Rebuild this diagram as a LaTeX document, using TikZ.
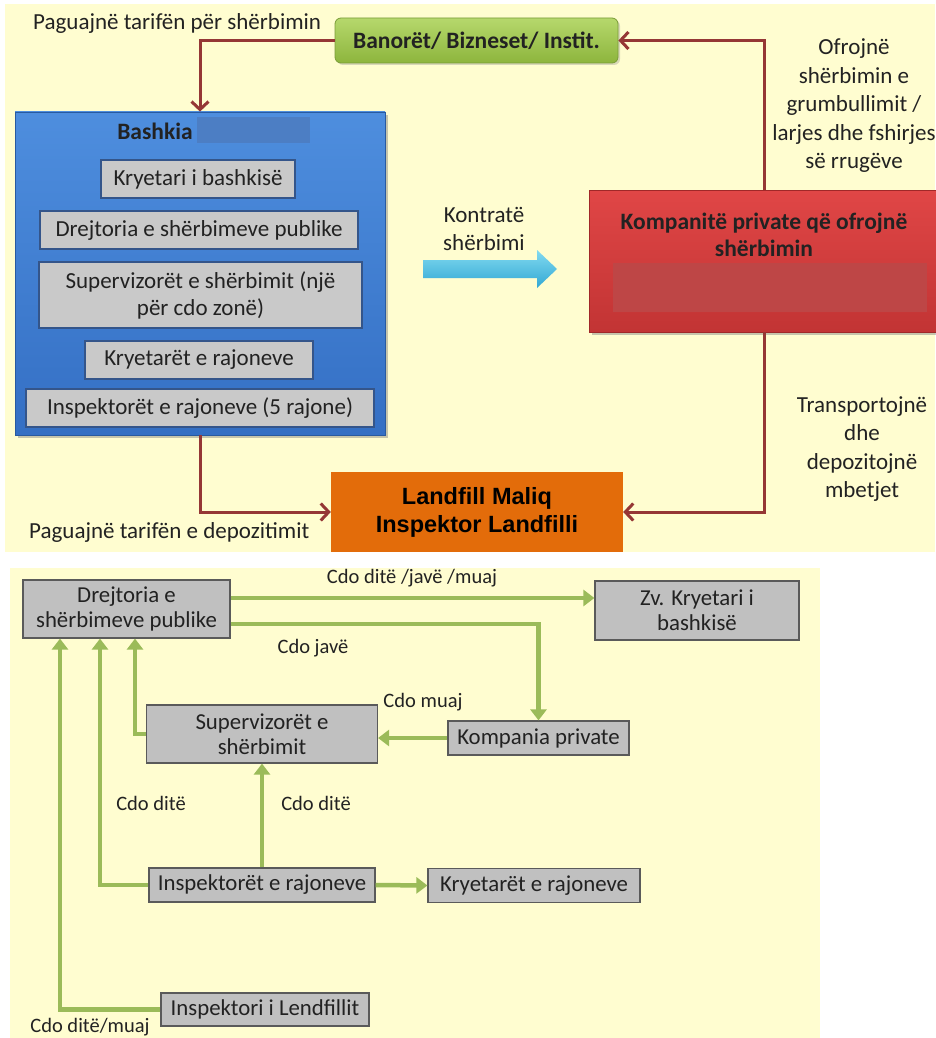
\documentclass[tikz,border=0pt]{standalone}
\usepackage{fontspec}
\setmainfont{Carlito}
\newfontfamily\arialf{Liberation Sans}
\usetikzlibrary{arrows.meta,shadows,calc}
\definecolor{bgy}{HTML}{FFFDD0}
\definecolor{txt}{HTML}{222222}
\definecolor{darkred}{HTML}{953735}
\definecolor{gline}{HTML}{9BBB59}
\definecolor{tgrayfill}{HTML}{C9C9C9}
\definecolor{tborder}{HTML}{34558A}
\definecolor{bgrayfill}{HTML}{C0C0C0}
\definecolor{bborder}{HTML}{5A5A5A}
\definecolor{landor}{HTML}{E36C0A}
\definecolor{greentop}{HTML}{B6D86C}
\definecolor{greenbot}{HTML}{8DB53D}
\definecolor{greendraw}{HTML}{7A9C38}
\definecolor{bluetop}{HTML}{4E8EDE}
\definecolor{bluebot}{HTML}{346FC4}
\definecolor{bluedraw}{HTML}{285AA0}
\definecolor{blueredact}{HTML}{4C7EC4}
\definecolor{redtop}{HTML}{E04646}
\definecolor{redbot}{HTML}{C23434}
\definecolor{reddraw}{HTML}{A02828}
\definecolor{redredact}{HTML}{BE4646}
\definecolor{cyantop}{HTML}{82DAF0}
\definecolor{cyanbot}{HTML}{32A8D4}
\begin{document}
\begin{tikzpicture}[x=1pt,y=-1pt,
  lbl/.style={text=txt, font=\fontsize{23}{28.5}\selectfont, align=center, inner sep=0},
  slbl/.style={text=txt, font=\fontsize{20.5}{24}\selectfont, align=center, inner sep=0},
  tgray/.style={draw=tborder, line width=1.4pt, fill=tgrayfill, inner sep=0, align=center, text=txt, font=\fontsize{23}{27}\selectfont},
  bgray/.style={draw=bborder, line width=1.2pt, fill=bgrayfill, inner sep=0, align=center, text=txt, font=\fontsize{22.8}{25}\selectfont},
  redarrow/.style={draw=darkred, line width=3pt, -{Straight Barb[length=8pt,width=17pt,line width=3pt]}},
  garrow/.style={draw=gline, line width=4.5pt, -{Triangle[length=11pt,width=16pt]}}
]
\useasboundingbox (0,0) rectangle (935,1038);
\fill[white] (0,0) rectangle (935,1038);
\fill[bgy] (5,4) rectangle (935,552);
\fill[bgy] (10,568) rectangle (820,1038);

% ---------- top part ----------
\node[lbl, anchor=west] (pay1) at (33,23) {Paguajnë tarifën për shërbimin};
\node[rounded corners=6pt, top color=greentop, bottom color=greenbot,
      draw=greendraw, line width=0.8pt,
      minimum width=283pt, minimum height=45pt, inner sep=0,
      font=\fontsize{23.5}{26}\selectfont\bfseries, text=txt,
      drop shadow={shadow xshift=2pt, shadow yshift=-2pt, opacity=0.3}] (green) at (476.5,40.5) {Banorët/ Bizneset/ Instit.};

\node[top color=bluetop, bottom color=bluebot,
      draw=bluedraw, line width=0.8pt,
      minimum width=370pt, minimum height=323pt, inner sep=0,
      drop shadow={shadow xshift=3pt, shadow yshift=-3pt, opacity=0.45}] (bashkia) at (200,273.5) {};
\node[font=\fontsize{23.5}{26}\selectfont\bfseries, text=txt, inner sep=0] (bashkialbl) at (155,131) {Bashkia};
\fill[blueredact] (197,117) rectangle (310,143);

\node[tgray, minimum width=194pt, minimum height=38pt] (k1) at (198,179) {Kryetari i bashkisë};
\node[tgray, minimum width=318pt, minimum height=38pt] (k2) at (199,230) {Drejtoria e shërbimeve publike};
\node[tgray, minimum width=323pt, minimum height=66pt] (k3) at (200.5,295) {Supervizorët e shërbimit (një\\për cdo zonë)};
\node[tgray, minimum width=228pt, minimum height=38pt] (k4) at (199,360) {Kryetarët e rajoneve};
\node[tgray, minimum width=348pt, minimum height=38pt] (k5) at (200,408) {Inspektorët e rajoneve (5 rajone)};

\node[top color=redtop, bottom color=redbot,
      draw=reddraw, line width=0.8pt,
      minimum width=350pt, minimum height=142pt, inner sep=0,
      drop shadow={shadow xshift=3pt, shadow yshift=-3pt, opacity=0.45}] (redbox) at (764,261) {};
\node[font=\fontsize{23.5}{27}\selectfont\bfseries, text=txt, align=center, inner sep=0] (redlbl) at (764,235) {Kompanitë private që ofrojnë\\shërbimin};
\fill[redredact] (613,263) rectangle (927,312);

\node[fill=landor, minimum width=292pt, minimum height=80pt, inner sep=0, align=center,
      font=\arialf\fontsize{23.5}{28}\selectfont\bfseries, text=black] (landfill) at (477,512) {Landfill Maliq\\Inspektor Landfilli};

\node[lbl] (ofr) at (854,106) {Ofrojnë\\shërbimin e\\grumbullimit /\\larjes dhe fshirjes\\së rrugëve};
\node[lbl] (kon) at (484,229) {Kontratë\\shërbimi};
\node[lbl] (trans) at (862,449) {Transportojnë\\dhe\\depozitojnë\\mbetjet};
\node[lbl, anchor=west] (pay2) at (29,532) {Paguajnë tarifën e depozitimit};

\shade[top color=cyantop, bottom color=cyanbot]
  (423,260) -- (537,260) -- (537,250) -- (557,269) -- (537,288) -- (537,278) -- (423,278) -- cycle;

\draw[redarrow] (green.west) -| (bashkia.north);
\draw[redarrow] (redbox.north) |- (green.east);
\draw[redarrow] (bashkia.south) |- (landfill.west);
\draw[redarrow] (redbox.south) |- (landfill.east);

% ---------- bottom part ----------
\node[bgray, minimum width=207pt, minimum height=58pt] (b1) at (126.5,609) {Drejtoria e\\shërbimeve publike};
\node[bgray, minimum width=204pt, minimum height=59pt] (b2) at (697,610.5) {Zv. Kryetari i\\bashkisë};
\node[bgray, minimum width=231pt, minimum height=58pt] (b3) at (262,734) {Supervizorët e\\shërbimit};
\node[bgray, minimum width=181pt, minimum height=34pt] (b4) at (538.5,738) {Kompania private};
\node[bgray, minimum width=226pt, minimum height=34pt] (b5) at (262,885) {Inspektorët e rajoneve};
\node[bgray, minimum width=212pt, minimum height=34pt] (b6) at (534,885.5) {Kryetarët e rajoneve};
\node[bgray, minimum width=208pt, minimum height=33pt] (b7) at (265,1009.5) {Inspektori i Lendfillit};

\draw[garrow] ([yshift=11pt]b1.east) -- ([yshift=11pt]b1.east -| b2.west);
\draw[garrow] ([yshift=-15pt]b1.east) -| (b4.north);
\draw[garrow] (b4.west) -- (b4.west -| b3.east);
\draw[garrow] (b3.west) -| ([xshift=8.5pt]b1.south);
\draw[garrow] (b5.north) -- (b3.south);
\draw[garrow] (b5.west) -| ([xshift=-26.5pt]b1.south);
\draw[garrow] (b5.east) -- (b6.west);
\draw[garrow] (b7.west) -| ([xshift=-66.5pt]b1.south);

\node[slbl] (l1) at (412,578) {Cdo ditë /javë /muaj};
\node[slbl] (l2) at (313,648) {Cdo javë};
\node[slbl] (l3) at (423,702) {Cdo muaj};
\node[slbl] (l4) at (316,803) {Cdo ditë};
\node[slbl] (l5) at (151,803) {Cdo ditë};
\node[slbl] (l6) at (90,1027) {Cdo ditë/muaj};
\end{tikzpicture}
\end{document}
